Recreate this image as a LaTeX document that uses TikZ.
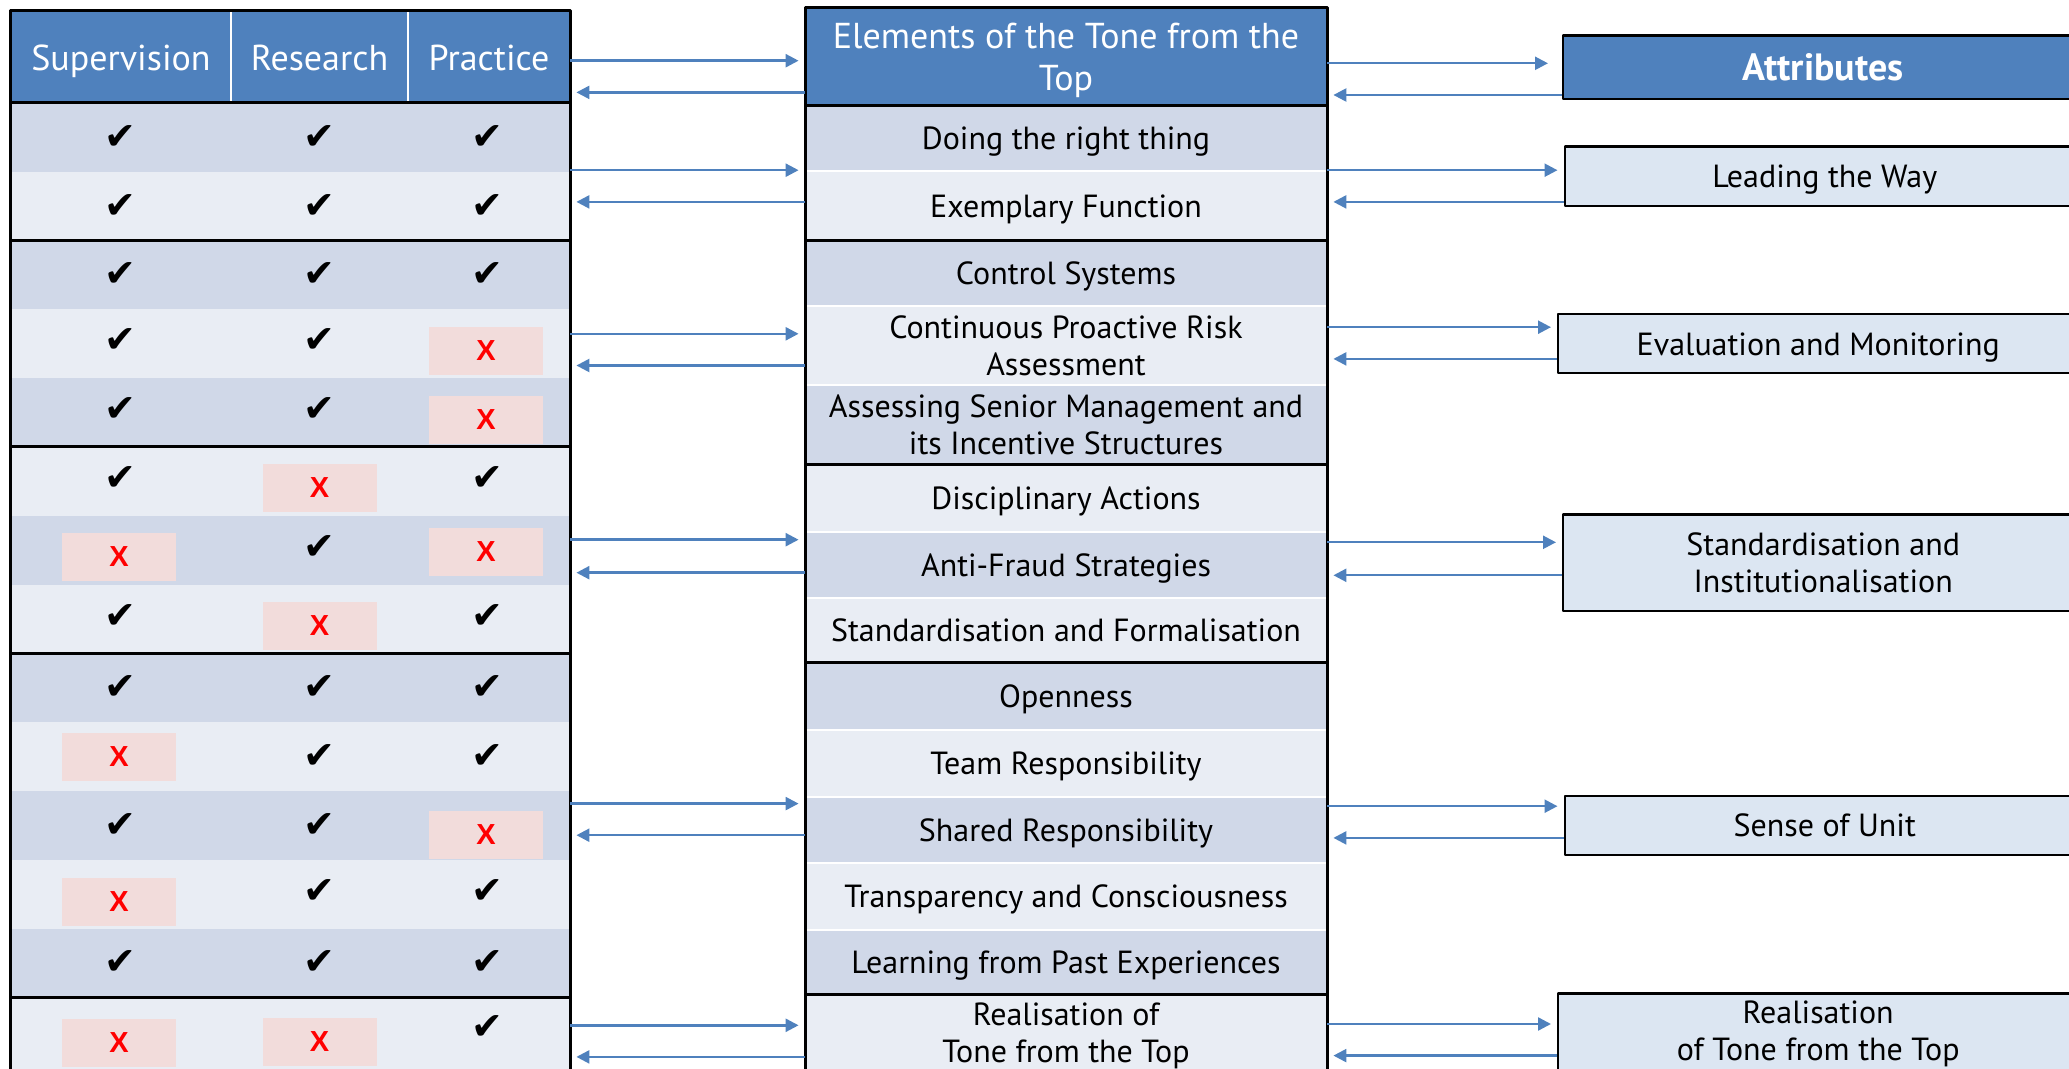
\documentclass[tikz,border=0pt]{standalone}
\usepackage{fontspec}
\setmainfont{PT Sans}
\newfontfamily\symfont{DejaVu Sans}
\newfontfamily\xfont{Liberation Sans}
\usepackage{tikz}
\usetikzlibrary{arrows.meta}
\definecolor{hblue}{HTML}{4F81BD}
\definecolor{rowdark}{HTML}{D0D8E8}
\definecolor{rowlight}{HTML}{E9EDF4}
\definecolor{boxblue}{HTML}{DCE6F2}
\definecolor{xpink}{HTML}{F2DCDB}

\begin{document}
\begin{tikzpicture}[x=0.5pt,y=-0.5pt,line join=round,>={Triangle[length=6.5pt,width=6.5pt]},
    body/.style={font=\fontsize{16}{18.5}\selectfont,align=center,inner sep=0pt},
    head/.style={font=\fontsize{18}{21}\selectfont,text=white,align=center,inner sep=0pt,text depth=0pt},
    lrow/.style={minimum width=279.75pt,minimum height=34.4pt,inner sep=0pt},
    mrow/.style={body,minimum width=261pt,text depth=0pt},
    mrowtwo/.style={body,minimum width=261pt},
    ok/.style={font=\symfont\fontsize{19}{19}\selectfont,inner sep=0pt},
    no/.style={fill=xpink,text=red,font=\xfont\bfseries\fontsize{14.5}{14.5}\selectfont,minimum width=57pt,minimum height=24pt,inner sep=0pt},
    attr/.style={body,draw=black,line width=1.2pt,fill=boxblue,anchor=west,minimum width=260pt},
    link/.style={hblue,line width=1.2pt,->,shorten >=3pt}]
    \clip (0,0) rectangle (2069,1069);
    % left table
    \node[lrow,fill=hblue,minimum height=46.25pt] (lh) at (290.25,56.75) {};
    \node[lrow,fill=rowdark] (l1) at (290.25,137.4) {};
    \node[lrow,fill=rowlight] (l2) at (290.25,206.2) {};
    \node[lrow,fill=rowdark] (l3) at (290.25,275) {};
    \node[lrow,fill=rowlight] (l4) at (290.25,343.8) {};
    \node[lrow,fill=rowdark] (l5) at (290.25,412.6) {};
    \node[lrow,fill=rowlight] (l6) at (290.25,481.4) {};
    \node[lrow,fill=rowdark] (l7) at (290.25,550.2) {};
    \node[lrow,fill=rowlight] (l8) at (290.25,619) {};
    \node[lrow,fill=rowdark] (l9) at (290.25,687.8) {};
    \node[lrow,fill=rowlight] (l10) at (290.25,756.6) {};
    \node[lrow,fill=rowdark] (l11) at (290.25,825.4) {};
    \node[lrow,fill=rowlight] (l12) at (290.25,894.2) {};
    \node[lrow,fill=rowdark] (l13) at (290.25,963) {};
    \node[lrow,fill=rowlight,minimum height=44pt] (l14) at (290.25,1041.4) {};
    \draw[white,line width=1pt] (231,10.5) -- (231,103);
    \draw[white,line width=1pt] (408,10.5) -- (408,103);
    \draw[line width=1.5pt] (10.5,103) -- (570,103);
    \draw[line width=1.5pt] (10.5,240.6) -- (570,240.6);
    \draw[line width=1.5pt] (10.5,447) -- (570,447);
    \draw[line width=1.5pt] (10.5,653.4) -- (570,653.4);
    \draw[line width=1.5pt] (10.5,997.4) -- (570,997.4);
    \draw[line width=1.5pt] (10.5,1090) -- (10.5,10.5) -- (570,10.5) -- (570,1090);
    \node[head] (sup) at (121,58) {Supervision};
    \node[head] (res) at (319.5,58) {Research};
    \node[head] (pra) at (489,58) {Practice};
    \node[ok] (s1) at (120,137.4) {✔};
    \node[ok] (r1) at (319.5,137.4) {✔};
    \node[ok] (p1) at (487,137.4) {✔};
    \node[ok] (s2) at (120,206.2) {✔};
    \node[ok] (r2) at (319.5,206.2) {✔};
    \node[ok] (p2) at (487,206.2) {✔};
    \node[ok] (s3) at (120,275) {✔};
    \node[ok] (r3) at (319.5,275) {✔};
    \node[ok] (p3) at (487,275) {✔};
    \node[ok] (s4) at (120,341) {✔};
    \node[ok] (r4) at (319.5,341) {✔};
    \node[no] (p4) at (486,351) {X};
    \node[ok] (s5) at (120,410) {✔};
    \node[ok] (r5) at (319.5,410) {✔};
    \node[no] (p5) at (486,420) {X};
    \node[ok] (s6) at (120,479) {✔};
    \node[no] (r6) at (319.5,488) {X};
    \node[ok] (p6) at (487,479) {✔};
    \node[no] (s7) at (119,557) {X};
    \node[ok] (r7) at (319.5,548) {✔};
    \node[no] (p7) at (486,552) {X};
    \node[ok] (s8) at (120,617) {✔};
    \node[no] (r8) at (319.5,626) {X};
    \node[ok] (p8) at (487,617) {✔};
    \node[ok] (s9) at (120,687.8) {✔};
    \node[ok] (r9) at (319.5,687.8) {✔};
    \node[ok] (p9) at (487,687.8) {✔};
    \node[no] (s10) at (119,757) {X};
    \node[ok] (r10) at (319.5,756.6) {✔};
    \node[ok] (p10) at (487,756.6) {✔};
    \node[ok] (s11) at (120,825.4) {✔};
    \node[ok] (r11) at (319.5,825.4) {✔};
    \node[no] (p11) at (486,835) {X};
    \node[no] (s12) at (119,902) {X};
    \node[ok] (r12) at (319.5,892) {✔};
    \node[ok] (p12) at (487,892) {✔};
    \node[ok] (s13) at (120,963) {✔};
    \node[ok] (r13) at (319.5,963) {✔};
    \node[ok] (p13) at (487,963) {✔};
    \node[no] (s14) at (119,1043) {X};
    \node[no] (r14) at (319.5,1042) {X};
    \node[ok] (p14) at (487,1028) {✔};
    % middle table
    \node[head,fill=hblue,minimum width=261pt,minimum height=48.8pt] (mh) at (1066,56.8) {Elements of the Tone from the\\Top};
    \node[mrow,fill=rowdark,minimum height=33pt] (m1) at (1066,138.55) {Doing the right thing};
    \node[mrow,fill=rowlight,minimum height=34.3pt] (m2) at (1066,205.8) {Exemplary Function};
    \node[mrow,fill=rowdark,minimum height=33pt] (m3) at (1066,273.1) {Control Systems};
    \node[mrowtwo,fill=rowlight,minimum height=39.6pt] (m4) at (1066,345.7) {Continuous Proactive Risk\\Assessment};
    \node[mrowtwo,fill=rowdark,minimum height=39.6pt] (m5) at (1066,424.9) {Assessing Senior Management and\\its Incentive Structures};
    \node[mrow,fill=rowlight,minimum height=33.7pt] (m6) at (1066,498.15) {Disciplinary Actions};
    \node[mrow,fill=rowdark,minimum height=33pt] (m7) at (1066,564.75) {Anti-Fraud Strategies};
    \node[mrow,fill=rowlight,minimum height=32.4pt] (m8) at (1066,630.05) {Standardisation and Formalisation};
    \node[mrow,fill=rowdark,minimum height=33.7pt] (m9) at (1066,696.05) {Openness};
    \node[mrow,fill=rowlight,minimum height=33.7pt] (m10) at (1066,763.35) {Team Responsibility};
    \node[mrow,fill=rowdark,minimum height=33pt] (m11) at (1066,830) {Shared Responsibility};
    \node[mrow,fill=rowlight,minimum height=33.6pt] (m12) at (1066,896.6) {Transparency and Consciousness};
    \node[mrow,fill=rowdark,minimum height=32.4pt] (m13) at (1066,962.55) {Learning from Past Experiences};
    \node[mrowtwo,fill=rowlight,minimum height=40.6pt] (m14) at (1066,1035.5) {Realisation of\\Tone from the Top};
    \draw[white,line width=1pt] (805,171.5) -- (1327,171.5);
    \draw[white,line width=1pt] (805,306.1) -- (1327,306.1);
    \draw[white,line width=1pt] (805,385.3) -- (1327,385.3);
    \draw[white,line width=1pt] (805,531.8) -- (1327,531.8);
    \draw[white,line width=1pt] (805,597.7) -- (1327,597.7);
    \draw[white,line width=1pt] (805,729.7) -- (1327,729.7);
    \draw[white,line width=1pt] (805,797) -- (1327,797);
    \draw[white,line width=1pt] (805,863) -- (1327,863);
    \draw[white,line width=1pt] (805,930.2) -- (1327,930.2);
    \fill[rowlight] (805,1070) rectangle (1327,1090);
    \draw[line width=1.5pt] (805,105.6) -- (1327,105.6);
    \draw[line width=1.5pt] (805,240.1) -- (1327,240.1);
    \draw[line width=1.5pt] (805,464.5) -- (1327,464.5);
    \draw[line width=1.5pt] (805,662.4) -- (1327,662.4);
    \draw[line width=1.5pt] (805,994.9) -- (1327,994.9);
    \draw[line width=1.5pt] (805,1090) -- (805,8) -- (1327,8) -- (1327,1090);
    % attributes
    \node[attr,fill=hblue,text=white,font=\bfseries\fontsize{19}{21}\selectfont,minimum height=31.7pt] (a0) at (1562,67.3) {Attributes};
    \node[attr,text depth=0pt,minimum height=29.6pt] (a1) at (1563.5,176.2) {Leading the Way};
    \node[attr,text depth=0pt,minimum height=29.6pt] (a2) at (1557,343.7) {Evaluation and Monitoring};
    \node[attr,minimum height=48.2pt] (a3) at (1562,562.8) {Standardisation and\\Institutionalisation};
    \node[attr,minimum height=29.6pt] (a4) at (1563.5,825.4) {Sense of Unit};
    \node[attr,minimum height=40.4pt] (a5) at (1557,1034) {Realisation\\of Tone from the Top};
    % arrows
    \draw[link] (lh.east |- 0,60.7) -- (mh.west |- 0,60.7);
    \draw[link] (mh.west |- 0,92.4) -- (lh.east |- 0,92.4);
    \draw[link] (l2.east |- 0,170.2) -- (m2.west |- 0,170.2);
    \draw[link] (m2.west |- 0,201.9) -- (l2.east |- 0,201.9);
    \draw[link] (l4.east |- 0,333.8) -- (m4.west |- 0,333.8);
    \draw[link] (m4.west |- 0,365.5) -- (l4.east |- 0,365.5);
    \draw[link] (l7.east |- 0,539.7) -- (m7.west |- 0,539.7);
    \draw[link] (m7.west |- 0,572.7) -- (l7.east |- 0,572.7);
    \draw[link] (l11.east |- 0,803.6) -- (m11.west |- 0,803.6);
    \draw[link] (m11.west |- 0,835.2) -- (l11.east |- 0,835.2);
    \draw[link] (l14.east |- 0,1025.3) -- (m14.west |- 0,1025.3);
    \draw[link] (m14.west |- 0,1056.9) -- (l14.east |- 0,1056.9);
    \draw[link,shorten >=7pt] (mh.east |- 0,63.3) -- (a0.west |- 0,63.3);
    \draw[link] (a0.west |- 0,95) -- (mh.east |- 0,95);
    \draw[link] (m2.east |- 0,170.2) -- (a1.west |- 0,170.2);
    \draw[link] (a1.west |- 0,201.9) -- (m2.east |- 0,201.9);
    \draw[link] (m4.east |- 0,327.2) -- (a2.west |- 0,327.2);
    \draw[link] (a2.west |- 0,358.9) -- (m4.east |- 0,358.9);
    \draw[link] (m7.east |- 0,542.3) -- (a3.west |- 0,542.3);
    \draw[link] (a3.west |- 0,575.3) -- (m7.east |- 0,575.3);
    \draw[link] (m11.east |- 0,806.2) -- (a4.west |- 0,806.2);
    \draw[link] (a4.west |- 0,837.9) -- (m11.east |- 0,837.9);
    \draw[link] (m14.east |- 0,1024) -- (a5.west |- 0,1024);
    \draw[link] (a5.west |- 0,1055.6) -- (m14.east |- 0,1055.6);
\end{tikzpicture}
\end{document}
